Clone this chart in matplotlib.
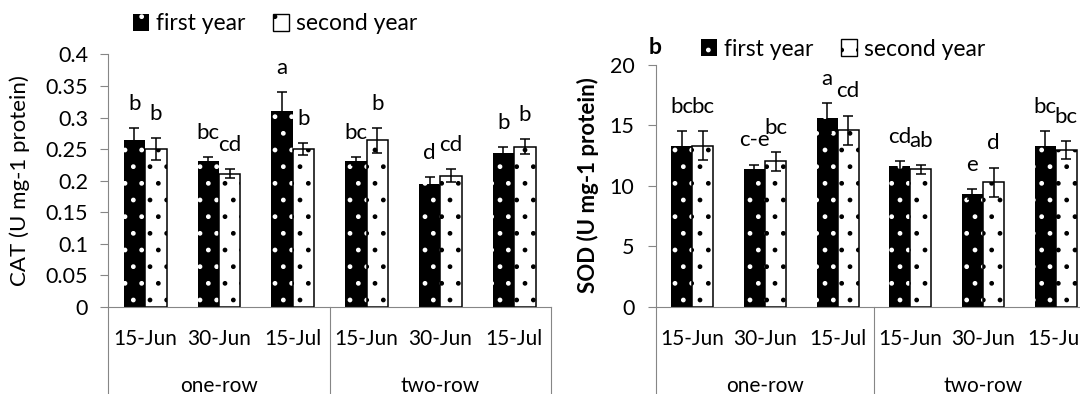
import numpy as np
import matplotlib
matplotlib.use("Agg")
import matplotlib.pyplot as plt
from matplotlib import transforms
from matplotlib.patches import Patch

plt.rcParams['font.family'] = ['Lato', 'DejaVu Sans']
plt.rcParams['hatch.linewidth'] = 1.0

# data
dates = ['15-Jun', '30-Jun', '15-Jul', '15-Jun', '30-Jun', '15-Jul']
groups = ['one-row', 'two-row']
series = ['first year', 'second year']

cat_first = [0.264, 0.231, 0.311, 0.231, 0.195, 0.243]
cat_second = [0.250, 0.211, 0.250, 0.264, 0.208, 0.254]
cat_first_err = [0.020, 0.007, 0.029, 0.007, 0.011, 0.010]
cat_second_err = [0.017, 0.007, 0.009, 0.020, 0.011, 0.012]
cat_first_lab = ['b', 'bc', 'a', 'bc', 'd', 'b']
cat_second_lab = ['b', 'cd', 'b', 'b', 'cd', 'b']

sod_first = [13.3, 11.35, 15.6, 11.65, 9.3, 13.3]
sod_second = [13.3, 12.0, 14.6, 11.35, 10.3, 12.95]
sod_first_err = [1.2, 0.4, 1.25, 0.4, 0.42, 1.2]
sod_second_err = [1.2, 0.75, 1.2, 0.36, 1.2, 0.77]
sod_first_lab = ['bc', 'c-e', 'a', 'cd', 'e', 'bc']
sod_second_lab = ['bc', 'bc', 'cd', 'ab', 'd', 'bc']

GRAY = '#868686'
FS_TICK = 15
FS_Y = 15.5
FS_LAB = 16
FS_LEG = 16.5

fig = plt.figure(figsize=(10.8, 3.94), dpi=100)
W, H = 1080, 394


def px_axes(x0, x1, ytop, ybot):
    return fig.add_axes([x0 / W, 1 - ybot / H, (x1 - x0) / W, (ybot - ytop) / H])


def draw_panel(ax, v1, v2, e1, e2, l1, l2, ymax, ystep, ylabel_pad):
    x = np.arange(len(dates))
    w = 0.29
    ax.bar(x - w / 2, v1, w, facecolor='black', edgecolor='white', hatch='.', linewidth=0, zorder=2)
    ax.bar(x + w / 2, v2, w, facecolor='white', edgecolor='black', hatch='.', linewidth=1.1, zorder=2)
    ax.errorbar(x - w / 2, v1, yerr=e1, fmt='none', ecolor='black', elinewidth=1.1, capsize=3.8, capthick=1.1, zorder=3)
    ax.errorbar(x + w / 2, v2, yerr=e2, fmt='none', ecolor='black', elinewidth=1.1, capsize=3.8, capthick=1.1, zorder=3)
    for xi, v, e, t in zip(x - w / 2, v1, e1, l1):
        ax.annotate(t, (xi, v + e), xytext=(0, 13), textcoords='offset points',
                    ha='center', va='baseline', fontsize=FS_LAB)
    for xi, v, e, t in zip(x + w / 2, v2, e2, l2):
        ax.annotate(t, (xi, v + e), xytext=(0, 13), textcoords='offset points',
                    ha='center', va='baseline', fontsize=FS_LAB)

    ax.set_xlim(-0.5, len(dates) - 0.5)
    ax.set_ylim(0, ymax)
    ax.set_yticks(np.arange(0, ymax + ystep / 2, ystep))
    ax.yaxis.set_major_formatter(matplotlib.ticker.FormatStrFormatter('%g'))
    ax.set_xticks([])
    ax.tick_params(axis='y', length=5.5, width=0.8, color=GRAY, pad=ylabel_pad, labelsize=FS_Y)
    for s in ['top', 'right']:
        ax.spines[s].set_visible(False)
    for s in ['left', 'bottom']:
        ax.spines[s].set_color(GRAY)
        ax.spines[s].set_linewidth(0.8)

    # multi-level category axis
    tr = ax.get_xaxis_transform()
    tr_dates = transforms.offset_copy(tr, fig=fig, y=-38 * 0.72, units='points')
    tr_groups = transforms.offset_copy(tr, fig=fig, y=-85 * 0.72, units='points')
    for xi, d in zip(x, dates):
        ax.text(xi, 0, d, transform=tr_dates, ha='center', va='baseline', fontsize=FS_TICK)
    for gi, g in enumerate(groups):
        ax.text(gi * 3 + 1, 0, g, transform=tr_groups, ha='center', va='baseline', fontsize=FS_TICK)
    ax_h = ax.get_position().height * H
    for xb in [-0.5, 2.5, 5.5]:
        ax.plot([xb, xb], [0, -100 / ax_h], transform=tr, color=GRAY, lw=0.8, clip_on=False)


handles = [Patch(facecolor='black', edgecolor='white', hatch='.', linewidth=0),
           Patch(facecolor='white', edgecolor='black', hatch='.', linewidth=1.0)]

# left panel (CAT)
ax1 = px_axes(108.3, 551, 54.5, 306.7)
draw_panel(ax1, cat_first, cat_second, cat_first_err, cat_second_err,
           cat_first_lab, cat_second_lab, 0.4, 0.05, 9)
fig.text(20 / W, 1 - 181 / H, 'CAT (U mg-1 protein)', rotation=90, ha='center', va='center', fontsize=FS_LAB)
ax1.legend(handles, series, loc='center', bbox_to_anchor=(275 / W, 1 - 24 / H),
           bbox_transform=fig.transFigure, ncol=2, frameon=False, fontsize=FS_LEG,
           handlelength=0.7, handleheight=0.7, handletextpad=0.3, columnspacing=1.2)

# right panel (SOD)
ax2 = px_axes(656, 1092, 64.7, 306.7)
draw_panel(ax2, sod_first, sod_second, sod_first_err, sod_second_err,
           sod_first_lab, sod_second_lab, 20, 5, 10)
fig.text(588 / W, 1 - 185 / H, 'SOD (U mg-1 protein)', rotation=90, ha='center', va='center',
         fontsize=FS_LAB, fontweight='bold')
fig.text(655 / W, 1 - 47 / H, 'b', ha='center', va='center', fontsize=FS_LEG, fontweight='bold')
ax2.legend(handles, series, loc='center', bbox_to_anchor=(843 / W, 1 - 49 / H),
           bbox_transform=fig.transFigure, ncol=2, frameon=False, fontsize=FS_LEG,
           handlelength=0.7, handleheight=0.7, handletextpad=0.3, columnspacing=1.2)

fig.savefig('out.png', dpi=100)
